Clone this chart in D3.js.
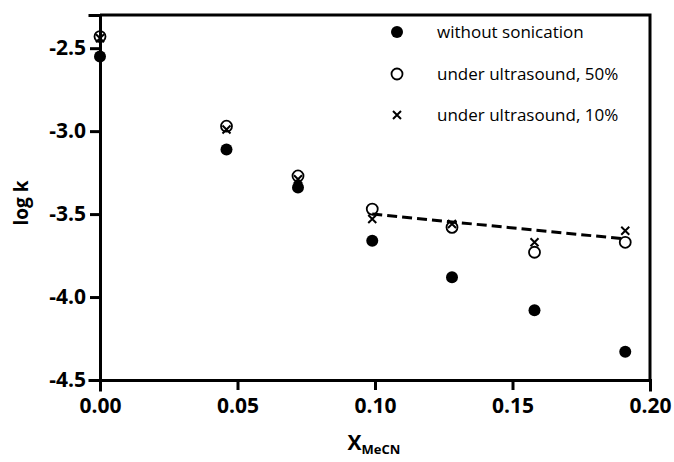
<!DOCTYPE html>
<html>
<head>
<meta charset="utf-8">
<script src="https://cdn.jsdelivr.net/npm/d3@7"></script>
<style>
  body { margin: 0; background: #fff; }
  text { font-family: "Open Sans", sans-serif; fill: #000; }
</style>
</head>
<body>
<svg id="chart" width="674" height="462"></svg>
<script>
// mole fraction of MeCN
const xMeCN = [0.000, 0.046, 0.072, 0.099, 0.128, 0.158, 0.191];
// log k for each condition
const noSonic = [-2.55, -3.11, -3.34, -3.66, -3.88, -4.08, -4.33];
const us50 = [-2.43, -2.97, -3.27, -3.47, -3.58, -3.73, -3.67];
const us10 = [-2.44, -2.99, -3.29, -3.53, -3.56, -3.67, -3.60];
// dashed fit line end points
const fitX = [0.099, 0.191];
const fitY = [-3.50, -3.65];

const seriesNames = ["without sonication", "under ultrasound, 50%", "under ultrasound, 10%"];
const xTicks = [0, 0.05, 0.10, 0.15, 0.20];
const yTicks = [-2.5, -3.0, -3.5, -4.0, -4.5];

const margin = {top: 15, right: 24, bottom: 82, left: 100};
const width = 674 - margin.left - margin.right;
const height = 462 - margin.top - margin.bottom;

const svg = d3.select("#chart");
const g = svg.append("g")
  .attr("transform", "translate(" + margin.left + "," + margin.top + ")");

const x = d3.scaleLinear().domain([0, 0.2]).range([0, width]);
const y = d3.scaleLinear().domain([-4.5, -2.3]).range([height, 0]);

// frame (top + right)
g.append("path")
  .attr("d", "M0,0H" + width + "V" + height)
  .attr("fill", "none")
  .attr("stroke", "#000")
  .attr("stroke-width", 3);

const xAxis = g.append("g")
  .attr("transform", "translate(0," + height + ")")
  .call(d3.axisBottom(x).tickValues(xTicks).tickFormat(d3.format(".2f")).tickSize(10).tickPadding(8));

const yAxis = g.append("g")
  .call(d3.axisLeft(y).tickValues(yTicks).tickFormat(d3.format(".1f")).tickSize(10).tickPadding(4));

[xAxis, yAxis].forEach(a => {
  a.selectAll(".domain").attr("stroke-width", 3).attr("stroke-linecap", "square");
  a.selectAll(".tick line").attr("stroke-width", 3);
  a.selectAll(".tick text")
    .attr("font-family", "Open Sans, sans-serif")
    .attr("font-weight", "bold")
    .attr("font-size", 21);
});
yAxis.selectAll(".tick text").text(d => d3.format(".1f")(d).replace("−", "-"));

// axis titles
svg.append("text")
  .attr("transform", "translate(28,203) rotate(-90)")
  .attr("text-anchor", "middle")
  .attr("font-weight", "bold")
  .attr("font-size", 19)
  .text("log k");

const xt = svg.append("text")
  .attr("x", 374)
  .attr("y", 450)
  .attr("text-anchor", "middle")
  .attr("font-weight", "bold")
  .attr("font-size", 21);
xt.append("tspan").text("X");
xt.append("tspan").attr("font-size", 13).attr("dy", 4).text("MeCN");

// dashed line
g.append("line")
  .attr("x1", x(fitX[0])).attr("y1", y(fitY[0]))
  .attr("x2", x(fitX[1])).attr("y2", y(fitY[1]))
  .attr("stroke", "#000")
  .attr("stroke-width", 3)
  .attr("stroke-dasharray", "10,5");

function drawMarker(sel, type) {
  if (type === 0) {
    sel.append("circle").attr("r", 6).attr("fill", "#000");
  } else if (type === 1) {
    sel.append("circle").attr("r", 5.5).attr("fill", "none")
      .attr("stroke", "#000").attr("stroke-width", 1.8);
  } else {
    sel.append("path").attr("d", "M-4,-4L4,4M-4,4L4,-4")
      .attr("stroke", "#000").attr("stroke-width", 2).attr("fill", "none");
  }
}

[noSonic, us50, us10].forEach((vals, i) => {
  const pts = g.append("g").selectAll("g")
    .data(vals)
    .join("g")
    .attr("transform", (d, j) => "translate(" + x(xMeCN[j]) + "," + y(d) + ")");
  drawMarker(pts, i);
});

// legend
const legendY = [32, 74, 115];
seriesNames.forEach((name, i) => {
  const item = svg.append("g").attr("transform", "translate(397," + legendY[i] + ")");
  drawMarker(item, i);
  item.append("text")
    .attr("x", 40)
    .attr("dy", "0.35em")
    .attr("font-size", 17)
    .text(name);
});
</script>
</body>
</html>
